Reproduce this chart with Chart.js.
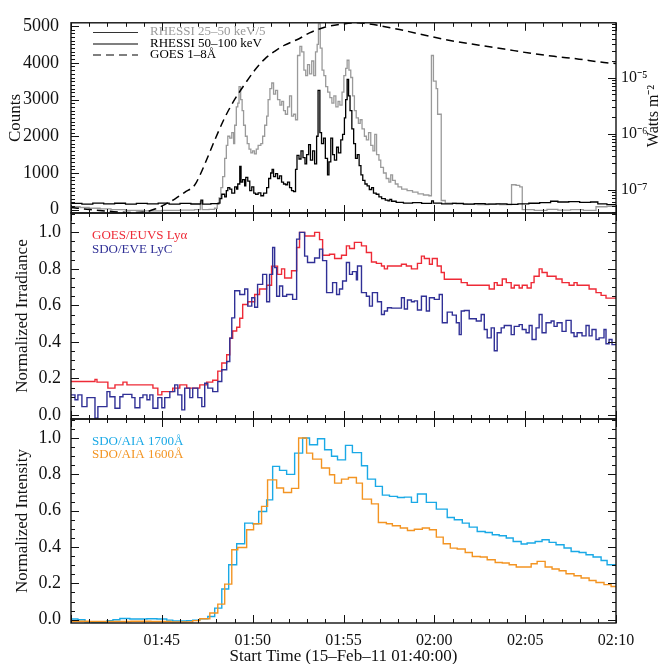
<!DOCTYPE html>
<html><head><meta charset="utf-8">
<script src="https://cdn.jsdelivr.net/npm/chart.js@4.4.1/dist/chart.umd.min.js"></script>
<style>
html,body{margin:0;padding:0;background:#fff;}
#wrap{position:relative;width:663px;height:664px;background:#fff;}
#wrap canvas{position:absolute;left:0;top:0;}
</style></head><body>
<div id="wrap">
<canvas id="c1" width="663" height="664"></canvas>
<canvas id="c2" width="663" height="664"></canvas>
<canvas id="c3" width="663" height="664"></canvas>
</div>
<script>
// ---------- time axis (minutes after 01:40:00) ----------
const timeTickValues = [5, 10, 15, 20, 25, 30];
const timeTickLabels = ['01:45', '01:50', '01:55', '02:00', '02:05', '02:10'];
const countTickValues = [0, 1000, 2000, 3000, 4000, 5000];
const fluxTickValues = [1e-7, 1e-6, 1e-5];
const fluxTickLabels = ['10\u207B\u2077', '10\u207B\u2076', '10\u207B\u2075'];
const normTickValues = [0, 0.2, 0.4, 0.6, 0.8, 1.0];
const normTickLabels = ['0.0', '0.2', '0.4', '0.6', '0.8', '1.0'];

// ---------- RHESSI 50-100 keV (step edges, counts) ----------
const rhessiHiT = [0,0.6,1.2,1.8,2.4,3.0,3.6,4.2,4.8,5.4,
  6.0,6.6,7.09,7.15,7.25,7.7,8.1,8.2,8.3,8.46,
  8.55,8.63,8.74,8.85,9.01,9.12,9.18,9.29,9.36,9.45,
  9.56,9.62,9.73,9.84,9.95,10.06,10.16,10.3,10.45,10.6,
  10.77,10.88,10.99,11.07,11.15,11.26,11.37,11.48,11.59,11.7,
  11.82,11.92,12.03,12.14,12.25,12.36,12.44,12.55,12.66,12.77,
  12.88,12.97,13.08,13.18,13.3,13.41,13.52,13.6,13.7,13.79,
  13.9,14.0,14.12,14.2,14.3,14.4,14.5,14.62,14.72,14.85,
  14.95,15.05,15.12,15.2,15.28,15.36,15.46,15.56,15.66,15.76,
  15.86,15.96,16.06,16.18,16.3,16.42,16.55,16.65,16.8,16.95,
  17.1,17.3,17.45,17.55,17.65,17.9,18.3,18.8,19.3,19.85,
  19.95,20.4,21.0,21.6,22.2,22.8,23.4,24.0,24.6,25.2,
  25.8,26.4,26.8,27.4,28.0,28.6,29.0,29.5,30.0];
const rhessiHiCounts = [170,150,180,160,175,150,170,160,180,150,
  170,155,160,260,150,165,180,300,420,350,
  520,600,560,450,620,560,700,1180,750,820,
  650,880,780,520,620,450,420,460,380,450,
  600,850,1000,1100,900,980,850,920,750,700,
  680,750,600,520,490,1100,1480,1380,1600,1420,
  1250,1500,1770,1350,1600,1250,2000,3250,2100,1800,
  1950,1400,950,1300,1950,1500,1350,1700,1550,1900,
  2050,2500,3000,3550,3100,2700,2200,1800,1400,1500,
  1200,950,800,700,650,550,600,450,420,350,
  300,260,240,280,230,200,180,190,170,240,
  180,160,170,150,165,150,160,145,160,175,
  190,230,210,220,200,210,160,140,140];

// ---------- RHESSI 25-50 keV / 5 (step edges, counts) ----------
const rhessiLoT = [0,0.5,1.0,1.6,2.2,3.0,4.0,5.0,6.0,6.8,
  7.12,7.22,7.6,7.9,8.05,8.15,8.25,8.35,8.46,8.55,
  8.63,8.74,8.85,8.95,9.01,9.1,9.18,9.25,9.34,9.42,
  9.5,9.6,9.7,9.8,9.9,10.0,10.1,10.2,10.3,10.45,
  10.55,10.66,10.77,10.85,10.95,11.05,11.15,11.26,11.37,11.5,
  11.6,11.7,11.8,11.92,12.03,12.14,12.25,12.36,12.47,12.6,
  12.7,12.82,12.92,13.02,13.13,13.25,13.36,13.46,13.55,13.62,
  13.72,13.82,13.92,14.02,14.13,14.25,14.36,14.47,14.58,14.7,
  14.8,14.92,15.02,15.12,15.2,15.3,15.4,15.5,15.6,15.7,
  15.82,15.92,16.02,16.15,16.26,16.38,16.5,16.62,16.72,16.82,
  16.95,17.05,17.2,17.35,17.5,17.6,17.7,17.85,18.0,18.2,
  18.5,18.8,19.1,19.4,19.7,19.84,19.95,20.1,20.18,20.38,
  20.6,21.2,21.8,22.4,23.0,23.6,24.25,24.5,24.7,24.84,
  25.5,26.2,26.8,27.5,28.2,28.9,29.5,30.0];
const rhessiLoCounts = [80,60,40,20,0,-20,-30,-20,-10,0,
  220,0,10,40,150,320,600,900,1400,1750,
  2000,1950,2100,1800,2300,2800,2900,3350,3000,2700,
  2300,2000,1800,1650,1550,1600,1520,1650,1750,1800,
  2000,2300,2550,3000,3300,3450,3150,3250,3000,2850,
  2950,2700,2600,2800,3100,2550,2600,2450,4200,4450,
  4300,3800,3650,3950,3700,4050,3650,4300,4500,5060,
  4400,3800,3650,3350,3200,3050,2900,3100,2800,2950,
  2850,3200,3650,3850,4070,3800,3600,3100,2700,2500,
  2350,2450,2200,2000,1900,2100,1750,1600,2050,1500,
  1350,1150,1000,850,750,950,800,700,620,560,
  520,480,430,400,380,4200,3500,3300,2600,250,
  180,160,150,140,160,140,680,660,620,0,
  -20,10,-10,0,-20,80,90,90];

// ---------- GOES 1-8 A (W m^-2) ----------
const goesT = [0,1.04,2.14,3.24,4.07,4.62,5.16,5.71,6.26,6.81,
  7.09,7.36,7.91,8.46,9.01,9.56,10.11,10.66,11.21,11.76,
  12.58,13.13,13.96,14.78,15.77,16.15,16.98,18.08,19.73,21.10,
  22.47,23.85,25.22,26.59,27.97,29.07,30.0];
const goesFlux = [4.79e-8,4.37e-8,4.07e-8,3.89e-8,3.98e-8,4.47e-8,5.37e-8,6.76e-8,8.91e-8,1.20e-7,
  1.78e-7,2.82e-7,7.59e-7,1.91e-6,4.07e-6,7.59e-6,1.35e-5,2.14e-5,2.95e-5,3.80e-5,
  5.01e-5,6.31e-5,7.94e-5,8.91e-5,9.55e-5,9.33e-5,8.51e-5,7.24e-5,5.50e-5,4.47e-5,
  3.80e-5,3.24e-5,2.75e-5,2.40e-5,2.14e-5,1.91e-5,1.78e-5];

// ---------- GOES/EUVS Ly-alpha (normalized, step edges) ----------
const lyaT = [0,1.32,1.43,2.03,2.42,2.86,3.08,4.51,4.78,5.0,
  5.60,5.99,6.37,7.09,7.47,7.80,8.08,8.30,8.57,8.74,
  8.90,9.12,9.29,9.45,9.73,10.11,10.38,10.77,11.04,11.37,
  11.59,11.76,12.14,12.42,12.58,12.86,13.41,13.68,13.85,14.23,
  14.51,14.89,15.16,15.33,15.60,15.99,16.26,16.54,16.81,17.09,
  17.25,17.42,18.19,18.46,18.74,19.07,19.29,19.45,19.73,19.89,
  20.16,20.38,20.55,21.48,21.81,23.02,23.30,23.46,23.74,23.96,
  24.23,24.40,24.67,24.84,25.11,25.33,25.49,25.77,25.93,26.21,
  26.70,27.03,27.42,27.69,27.86,28.52,28.90,29.18,29.45,30.0];
const lyaIrr = [0.183,0.195,0.18,0.147,0.165,0.18,0.165,0.147,0.11,0.128,
  0.147,0.165,0.147,0.165,0.18,0.19,0.24,0.285,0.33,0.42,
  0.46,0.48,0.53,0.605,0.62,0.66,0.69,0.71,0.815,0.77,
  0.80,0.75,0.79,0.917,1.0,0.98,1.0,0.96,0.875,0.88,
  0.857,0.875,0.926,0.912,0.945,0.926,0.89,0.838,0.83,0.816,
  0.80,0.816,0.825,0.816,0.80,0.83,0.87,0.857,0.825,0.857,
  0.816,0.78,0.743,0.725,0.71,0.69,0.725,0.71,0.745,0.725,
  0.695,0.71,0.695,0.71,0.695,0.725,0.76,0.80,0.78,0.76,
  0.745,0.725,0.71,0.725,0.71,0.69,0.67,0.655,0.64,0.64];

// ---------- SDO/EVE Lyman continuum (normalized, step edges) ----------
const lycT = [0,0.22,0.38,0.60,0.88,1.32,1.48,1.98,2.14,2.42,
  2.69,2.86,3.35,3.52,3.79,3.96,4.18,4.34,4.51,4.78,
  5.0,5.16,5.44,5.71,5.88,6.10,6.26,6.54,6.70,6.98,
  7.20,7.36,7.53,7.80,8.08,8.30,8.57,8.74,8.85,9.01,
  9.29,9.56,9.73,9.95,10.11,10.27,10.55,10.77,10.93,11.10,
  11.21,11.32,11.48,11.65,11.87,12.20,12.42,12.58,12.86,13.02,
  13.41,13.68,13.85,14.07,14.40,14.62,14.78,14.95,15.16,15.33,
  15.49,15.71,15.77,15.99,16.26,16.43,16.59,16.87,17.09,17.25,
  17.42,17.64,18.19,18.35,18.52,18.74,18.90,19.07,19.29,19.56,
  19.73,20.0,20.27,20.44,20.71,20.99,21.21,21.37,21.48,21.65,
  21.92,22.31,22.58,22.75,22.91,23.13,23.30,23.46,23.68,23.85,
  24.23,24.40,24.67,24.84,25.05,25.22,25.38,25.60,25.77,25.93,
  26.15,26.43,26.59,26.76,27.03,27.25,27.53,27.69,27.86,28.13,
  28.35,28.52,28.68,28.90,29.07,29.34,29.45,29.62,29.78,30.0];
const lycIrr = [0.11,0.083,0.11,0.046,0.095,-0.017,0.046,0.128,0.10,0.037,
  0.10,0.113,0.095,0.04,0.095,0.11,0.083,0.11,0.037,0.095,
  0.04,0.095,0.128,0.165,0.11,0.028,0.147,0.095,0.147,0.095,
  0.046,0.174,0.147,0.128,0.183,0.248,0.293,0.42,0.532,0.68,
  0.66,0.69,0.596,0.642,0.59,0.715,0.77,0.62,0.77,0.917,
  0.807,0.65,0.706,0.65,0.66,0.633,0.963,1.0,0.87,0.835,
  0.86,0.908,0.845,0.67,0.725,0.66,0.69,0.734,0.835,0.77,
  0.785,0.74,0.816,0.67,0.65,0.596,0.67,0.62,0.55,0.569,
  0.587,0.585,0.642,0.58,0.63,0.62,0.625,0.575,0.65,0.569,
  0.642,0.633,0.66,0.505,0.563,0.547,0.505,0.44,0.569,0.572,
  0.527,0.515,0.55,0.468,0.422,0.477,0.352,0.45,0.477,0.49,
  0.44,0.485,0.495,0.468,0.45,0.49,0.413,0.477,0.55,0.45,
  0.505,0.515,0.485,0.505,0.458,0.518,0.45,0.43,0.45,0.433,
  0.49,0.433,0.468,0.413,0.422,0.468,0.39,0.413,0.385,0.385];

// ---------- SDO/AIA 1700 A (normalized, step edges) ----------
const aia1700T = [0,0.38,0.77,1.15,1.98,2.31,2.69,3.24,4.18,4.73,
  5.27,5.60,6.37,6.70,7.09,7.53,7.91,8.30,8.68,9.12,
  9.56,10.0,10.33,10.77,11.10,11.48,11.87,12.31,12.75,13.13,
  13.57,13.96,14.34,14.67,15.11,15.49,15.99,16.32,16.76,17.14,
  17.53,17.97,18.35,18.74,19.07,19.56,20.11,20.71,21.10,21.54,
  21.92,22.36,22.80,23.19,23.57,23.96,24.34,24.78,25.11,25.55,
  25.93,26.32,26.70,27.14,27.53,27.97,28.35,28.74,29.18,29.51,30.0];
const aia1700Int = [0.004,0.0,-0.011,-0.015,-0.005,0.0,0.007,0.004,0.005,0.004,
  -0.002,-0.007,-0.005,-0.002,0.005,0.018,0.064,0.169,0.303,0.418,
  0.532,0.528,0.596,0.66,0.844,0.822,0.80,0.917,1.0,0.963,
  0.996,0.936,0.90,0.88,0.96,0.92,0.848,0.774,0.734,0.686,
  0.679,0.673,0.675,0.646,0.692,0.646,0.609,0.563,0.55,0.532,
  0.51,0.486,0.48,0.468,0.462,0.45,0.431,0.417,0.422,0.431,
  0.44,0.426,0.413,0.395,0.376,0.37,0.358,0.345,0.326,0.303,0.303];

// ---------- SDO/AIA 1600 A (normalized, step edges) ----------
const aia1600T = [0,1.0,2.2,3.3,4.4,5.5,6.7,7.09,7.64,8.08,
  8.46,8.85,9.18,9.67,10.05,10.49,10.82,11.32,11.70,12.14,
  12.53,12.97,13.30,13.79,14.23,14.51,14.89,15.27,15.71,16.04,
  16.54,16.92,17.36,17.69,18.13,18.52,18.90,19.34,19.73,20.11,
  20.49,20.88,21.26,21.70,22.09,22.53,22.91,23.35,23.74,24.12,
  24.51,24.89,25.33,25.66,26.10,26.48,26.87,27.25,27.69,28.08,
  28.52,28.90,29.34,29.73,30.0];
const aia1600Int = [-0.008,-0.01,-0.01,-0.008,-0.01,-0.012,-0.005,0.005,0.037,0.086,
  0.196,0.385,0.398,0.495,0.528,0.624,0.77,0.725,0.70,0.723,
  1.0,0.917,0.884,0.835,0.798,0.752,0.774,0.783,0.752,0.664,
  0.638,0.535,0.528,0.517,0.505,0.491,0.498,0.505,0.495,0.455,
  0.418,0.394,0.389,0.37,0.348,0.345,0.33,0.315,0.312,0.303,
  0.29,0.29,0.308,0.321,0.29,0.279,0.27,0.253,0.242,0.23,
  0.216,0.205,0.193,0.183,0.183];

// ================= rendering =================
const FONT = '"Liberation Serif", "Times New Roman", Times, serif';
const INK = '#111111';
const pts = (T, V) => T.map((t, i) => ({x: t, y: V[i]}));

const idlFrame = {
  id: 'idlFrame',
  afterDatasetsDraw(chart, args, o) {
    const {ctx, chartArea: a} = chart;
    const xs = chart.scales.x, ys = chart.scales.y;
    const MAJ = 8, MIN = 4;
    ctx.save();
    ctx.strokeStyle = INK;
    ctx.lineWidth = 1;
    ctx.beginPath();
    for (let k = 0; ; k++) {
      const t = xs.min + k * o.xMinor;
      if (t > xs.max + 1e-9) break;
      const px = Math.round(xs.getPixelForValue(t)) + 0.5;
      const r = t / o.xMajor;
      const len = Math.abs(r - Math.round(r)) < 1e-6 ? MAJ : MIN;
      ctx.moveTo(px, a.bottom); ctx.lineTo(px, a.bottom - len);
      ctx.moveTo(px, a.top); ctx.lineTo(px, a.top + len);
    }
    const y0 = Math.ceil(ys.min / o.yMinor);
    for (let k = y0; ; k++) {
      const v = k * o.yMinor;
      if (v > ys.max + 1e-9) break;
      const py = Math.round(ys.getPixelForValue(v)) + 0.5;
      const r = v / o.yMajor;
      const len = Math.abs(r - Math.round(r)) < 1e-6 ? MAJ : MIN;
      ctx.moveTo(a.left, py); ctx.lineTo(a.left + len, py);
      if (o.mirrorY) { ctx.moveTo(a.right, py); ctx.lineTo(a.right - len, py); }
    }
    if (o.logAxis) {
      const ls = chart.scales[o.logAxis];
      const d0 = Math.floor(Math.log10(ls.min)), d1 = Math.ceil(Math.log10(ls.max));
      for (let d = d0; d <= d1; d++) {
        for (let m = 1; m <= 9; m++) {
          const v = m * Math.pow(10, d);
          if (v < ls.min || v > ls.max) continue;
          const py = Math.round(ls.getPixelForValue(v)) + 0.5;
          const len = m === 1 ? MAJ : MIN;
          ctx.moveTo(a.right, py); ctx.lineTo(a.right - len, py);
        }
      }
    }
    ctx.stroke();
    ctx.lineWidth = 1.4;
    ctx.strokeRect(a.left, a.top, a.right - a.left, a.bottom - a.top);
    ctx.restore();
  }
};

const idlLegend = {
  id: 'idlLegend',
  afterDatasetsDraw(chart, args, o) {
    if (!o.items) return;
    const ctx = chart.ctx;
    ctx.save();
    ctx.font = o.size + 'px ' + FONT;
    ctx.textBaseline = 'middle';
    ctx.textAlign = 'left';
    o.items.forEach(it => {
      const ds = chart.data.datasets[it.ds];
      if (it.lineFrom !== undefined) {
        ctx.strokeStyle = it.lineColor || ds.borderColor;
        ctx.lineWidth = 1.2;
        ctx.setLineDash(ds.borderDash || []);
        ctx.beginPath();
        ctx.moveTo(it.lineFrom, it.y + 0.5);
        ctx.lineTo(it.lineTo, it.y + 0.5);
        ctx.stroke();
        ctx.setLineDash([]);
      }
      ctx.fillStyle = it.textColor || ds.borderColor;
      ctx.fillText(ds.label, it.x, it.y);
    });
    ctx.restore();
  }
};

const sideTitle = {
  id: 'sideTitle',
  afterDraw(chart, args, o) {
    if (!o.text) return;
    const ctx = chart.ctx;
    ctx.save();
    ctx.translate(o.x, o.y);
    ctx.rotate(-Math.PI / 2);
    ctx.font = o.size + 'px ' + FONT;
    ctx.fillStyle = INK;
    ctx.textAlign = 'center';
    ctx.textBaseline = 'middle';
    ctx.fillText(o.text, 0, 0);
    ctx.restore();
  }
};

function leftAxis(min, max, values, labels, title, titlePad, tickPad) {
  return {
    type: 'linear', position: 'left', min, max,
    afterFit(s) { s.width = 71; },
    afterBuildTicks(s) { s.ticks = values.map(v => ({value: v})); },
    ticks: {
      font: {family: FONT, size: 18}, color: INK, padding: tickPad,
      callback: (v) => { const i = values.indexOf(v); return i >= 0 ? labels[i] : ''; }
    },
    grid: {display: false, drawTicks: false},
    border: {display: false},
    title: {display: true, text: title, font: {family: FONT, size: 17}, color: INK,
            padding: {top: titlePad, bottom: titlePad}}
  };
}

function baseOpts(padding, scales, frame, legend, side) {
  return {
    responsive: false, animation: false, devicePixelRatio: 1,
    events: [],
    layout: {padding},
    plugins: {
      legend: {display: false}, tooltip: {enabled: false},
      idlFrame: frame, idlLegend: legend || {}, sideTitle: side || {}
    },
    elements: {point: {radius: 0}},
    scales
  };
}

const hiddenX = {type: 'linear', min: 0, max: 30, display: false};

// ---- Panel 1: RHESSI + GOES ----
new Chart(document.getElementById('c1'), {
  type: 'line',
  data: {datasets: [
    {label: 'GOES 1\u20138\u00C5', data: pts(goesT, goesFlux), yAxisID: 'yR', borderColor: '#000000',
     borderWidth: 1.5, borderDash: [8, 5], cubicInterpolationMode: 'monotone', fill: false},
    {label: 'RHESSI 50\u2013100 keV', data: pts(rhessiHiT, rhessiHiCounts), yAxisID: 'y', borderColor: '#000000',
     borderWidth: 1.3, stepped: true, fill: false},
    {label: 'RHESSI 25\u201350 keV/5', data: pts(rhessiLoT, rhessiLoCounts), yAxisID: 'y', borderColor: '#9a9a9a',
     borderWidth: 1.3, stepped: true, fill: false}
  ]},
  options: baseOpts({top: 10, bottom: 451, left: 0, right: 0}, {
    x: hiddenX,
    y: leftAxis(-90, 5090, countTickValues, countTickValues.map(String), 'Counts', 5, 12),
    yR: {
      type: 'logarithmic', position: 'right', min: Math.pow(10, -7.42), max: Math.pow(10, -4.02),
      afterFit(s) { s.width = 47; },
      afterBuildTicks(s) { s.ticks = fluxTickValues.map(v => ({value: v})); },
      ticks: {font: {family: FONT, size: 16}, color: INK, padding: 5,
        callback: (v) => { const i = fluxTickValues.findIndex(f => Math.abs(f - v) / f < 1e-6); return i >= 0 ? fluxTickLabels[i] : ''; }},
      grid: {display: false, drawTicks: false},
      border: {display: false}
    }
  }, {xMinor: 1, xMajor: 5, yMinor: 100, yMajor: 1000, logAxis: 'yR'},
  {size: 13, items: [
    {ds: 2, x: 150, y: 32, lineFrom: 93, lineTo: 138, lineColor: '#333333'},
    {ds: 1, x: 150, y: 43.5, lineFrom: 93, lineTo: 138},
    {ds: 0, x: 150, y: 54.5, lineFrom: 93, lineTo: 138}
  ]},
  {text: 'Watts m\u207B\u00B2', x: 654, y: 116, size: 16}),
  plugins: [idlFrame, idlLegend, sideTitle]
});

// ---- Panel 2: Lyman alpha / Lyman continuum ----
new Chart(document.getElementById('c2'), {
  type: 'line',
  data: {datasets: [
    {label: 'SDO/EVE LyC', data: pts(lycT, lycIrr), borderColor: '#303096', borderWidth: 1.4, stepped: true, fill: false},
    {label: 'GOES/EUVS Ly\u03B1', data: pts(lyaT, lyaIrr), borderColor: '#ee2a36', borderWidth: 1.4, stepped: true, fill: false}
  ]},
  options: baseOpts({top: 213, bottom: 245, left: 0, right: 47}, {
    x: hiddenX,
    y: leftAxis(-0.022, 1.106, normTickValues, normTickLabels, 'Normalized Irradiance', 12, 10)
  }, {xMinor: 1, xMajor: 5, yMinor: 0.05, yMajor: 0.2, mirrorY: true},
  {size: 13, items: [
    {ds: 1, x: 92, y: 236},
    {ds: 0, x: 92, y: 250}
  ]}),
  plugins: [idlFrame, idlLegend]
});

// ---- Panel 3: AIA UV ----
new Chart(document.getElementById('c3'), {
  type: 'line',
  data: {datasets: [
    {label: 'SDO/AIA 1600\u00C5', data: pts(aia1600T, aia1600Int), borderColor: '#f39422', borderWidth: 1.4, stepped: true, fill: false},
    {label: 'SDO/AIA 1700\u00C5', data: pts(aia1700T, aia1700Int), borderColor: '#1aa9e6', borderWidth: 1.4, stepped: true, fill: false}
  ]},
  options: baseOpts({top: 419, bottom: 0, left: 0, right: 47}, {
    x: {
      type: 'linear', position: 'bottom', min: 0, max: 30,
      afterFit(s) { s.height = 41; },
      afterBuildTicks(s) { s.ticks = timeTickValues.map(v => ({value: v})); },
      ticks: {font: {family: FONT, size: 16}, color: INK, padding: 8, maxRotation: 0, autoSkip: false,
        callback: (v) => { const i = timeTickValues.indexOf(v); return i >= 0 ? timeTickLabels[i] : ''; }},
      grid: {display: false, drawTicks: false},
      border: {display: false},
      title: {display: true, text: 'Start Time (15\u2013Feb\u201311 01:40:00)', font: {family: FONT, size: 17},
              color: INK, padding: {top: 0, bottom: -3}}
    },
    y: leftAxis(-0.018, 1.105, normTickValues, normTickLabels, 'Normalized Intensity', 12, 10)
  }, {xMinor: 1, xMajor: 5, yMinor: 0.05, yMajor: 0.2, mirrorY: true},
  {size: 13, items: [
    {ds: 1, x: 92, y: 442},
    {ds: 0, x: 92, y: 455}
  ]}),
  plugins: [idlFrame, idlLegend]
});
</script>
</body></html>
